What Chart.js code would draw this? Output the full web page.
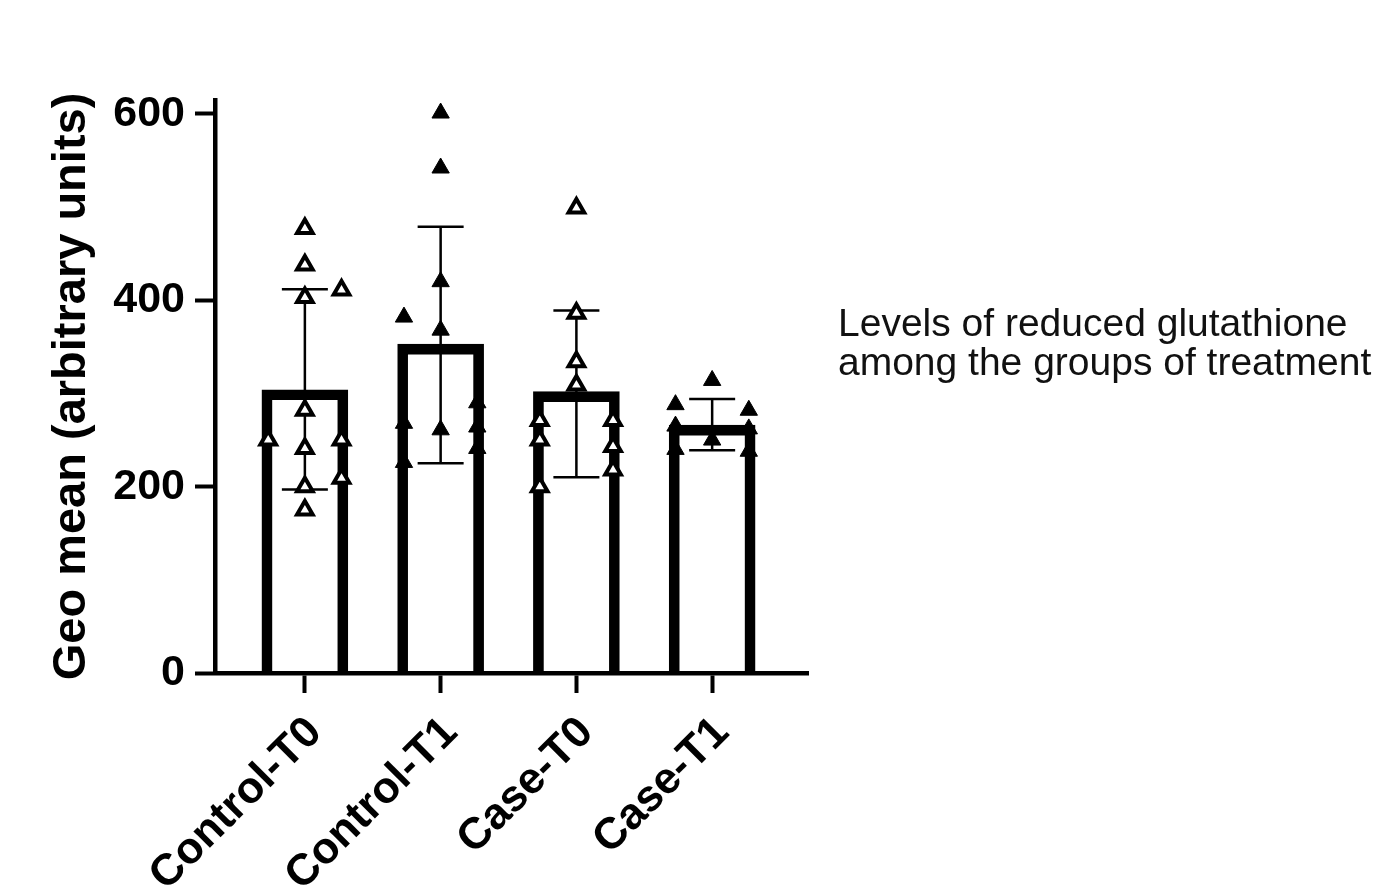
<!DOCTYPE html>
<html>
<head>
<meta charset="utf-8">
<script src="https://cdn.jsdelivr.net/npm/chart.js"></script>
<style>
  html, body { margin: 0; padding: 0; background: #fff; }
  #wrap { position: relative; width: 1390px; height: 885px; }
  #note {
    position: absolute; left: 838px; top: 303px;
    font-family: 'Liberation Sans', Arial, sans-serif;
    font-size: 39px; line-height: 39px; color: #111; white-space: nowrap;
  }
</style>
</head>
<body>
<div id="wrap">
  <canvas id="chart" width="1390" height="885"></canvas>
  <div id="note">Levels of reduced glutathione<br>among the groups of treatment</div>
</div>
<script>
  const groups = ['Control-T0', 'Control-T1', 'Case-T0', 'Case-T1'];
  const geoMeans = [304, 353, 302, 266];
  const errLow = [197, 225, 210, 239];
  const errHigh = [412, 479, 389, 294];
  const yTicks = [0, 200, 400, 600];

  // individual values; side: -1 left of centre, 0 centre, 1 right
  const ctrlT0Vals = [477, 438, 403, 411, 282, 250, 241, 250, 209, 200, 175];
  const ctrlT0Side = [0, 0, 0, 1, 0, -1, 0, 1, 1, 0, 0];
  const ctrlT1Vals = [601, 542, 420, 382, 368, 290, 268, 261, 264, 241, 226];
  const ctrlT1Side = [0, 0, 0, -1, 0, 1, -1, 0, 1, 1, -1];
  const caseT0Vals = [499, 386, 334, 309, 271, 271, 250, 243, 218, 200];
  const caseT0Side = [0, 0, 0, 0, -1, 1, -1, 1, 1, -1];
  const caseT1Vals = [314, 288, 282, 265, 262, 250, 240, 238];
  const caseT1Side = [0, -1, 1, -1, 1, 0, -1, 1];

  const spread = 0.27;
  const toPoints = (vals, side, g) => vals.map((v, i) => ({ x: g + side[i] * spread, y: v }));

  const errorBars = {
    id: 'errorBars',
    beforeDatasetsDraw(chart) {
      const { ctx, scales: { x, y } } = chart;
      ctx.save();
      ctx.strokeStyle = '#000';
      ctx.lineWidth = 2.5;
      groups.forEach((g, i) => {
        const px = x.getPixelForValue(i + 1);
        const lo = y.getPixelForValue(errLow[i]);
        const hi = y.getPixelForValue(errHigh[i]);
        ctx.beginPath();
        ctx.moveTo(px, lo); ctx.lineTo(px, hi);
        ctx.moveTo(px - 23, lo); ctx.lineTo(px + 23, lo);
        ctx.moveTo(px - 23, hi); ctx.lineTo(px + 23, hi);
        ctx.stroke();
      });
      ctx.restore();
    }
  };

  const openTri = { pointStyle: 'triangle', pointRadius: 9, pointBackgroundColor: '#fff', pointBorderColor: '#000', pointBorderWidth: 4 };
  const fullTri = { pointStyle: 'triangle', pointRadius: 10, pointBackgroundColor: '#000', pointBorderColor: '#000', pointBorderWidth: 1 };

  new Chart(document.getElementById('chart'), {
    type: 'bar',
    data: {
      datasets: [
        Object.assign({ type: 'scatter', order: 0, data: toPoints(ctrlT0Vals, ctrlT0Side, 1) }, openTri),
        Object.assign({ type: 'scatter', order: 0, data: toPoints(ctrlT1Vals, ctrlT1Side, 2) }, fullTri),
        Object.assign({ type: 'scatter', order: 0, data: toPoints(caseT0Vals, caseT0Side, 3) }, openTri),
        Object.assign({ type: 'scatter', order: 0, data: toPoints(caseT1Vals, caseT1Side, 4) }, fullTri),
        {
          type: 'bar', order: 1,
          data: geoMeans.map((v, i) => ({ x: i + 1, y: v })),
          backgroundColor: 'rgba(0,0,0,0)',
          borderColor: '#000',
          borderWidth: 10,
          barThickness: 86
        }
      ]
    },
    options: {
      responsive: false,
      animation: false,
      layout: { padding: { left: 40, right: 582, top: 100, bottom: 0 } },
      plugins: { legend: { display: false }, tooltip: { enabled: false } },
      scales: {
        x: {
          type: 'linear',
          offset: false,
          min: 0.338, max: 4.706,
          afterBuildTicks: s => { s.ticks = groups.map((g, i) => ({ value: i + 1 })); },
          afterFit: s => { s.height = 212; },
          ticks: {
            autoSkip: false, minRotation: 45, maxRotation: 45, color: '#000',
            padding: 14, labelOffset: 10,
            font: { family: 'Liberation Sans', weight: 'bold', size: 44 },
            callback: v => groups[v - 1]
          },
          grid: { offset: false, drawOnChartArea: false, tickLength: 20, tickWidth: 4, tickColor: '#000' },
          border: { color: '#000', width: 4.5 }
        },
        y: {
          min: 0, max: 615,
          afterBuildTicks: s => { s.ticks = yTicks.map(v => ({ value: v })); },
          afterFit: s => { s.width = 175; },
          ticks: { color: '#000', padding: 10, font: { family: 'Liberation Sans', weight: 'bold', size: 43 } },
          grid: { drawOnChartArea: false, tickLength: 20, tickWidth: 4, tickColor: '#000' },
          border: { color: '#000', width: 4.5 },
          title: {
            display: true, text: 'Geo mean (arbitrary units)', color: '#000',
            font: { family: 'Liberation Sans', weight: 'bold', size: 47 }
          }
        }
      }
    },
    plugins: [errorBars]
  });
</script>
</body>
</html>
